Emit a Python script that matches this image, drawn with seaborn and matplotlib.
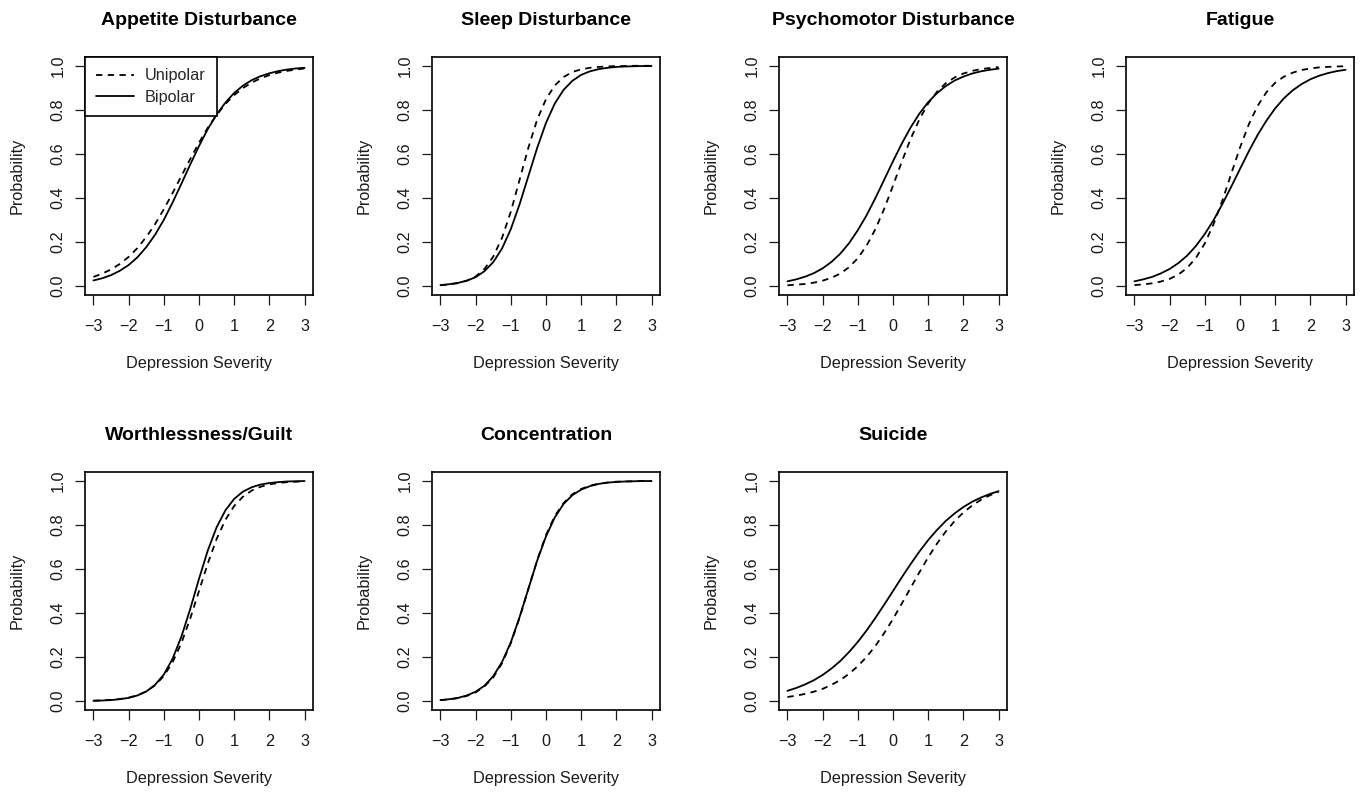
import numpy as np
import pandas as pd
import matplotlib
matplotlib.use("Agg")
import matplotlib.pyplot as plt
import seaborn as sns

severity = [-3.0, -2.75, -2.5, -2.25, -2.0, -1.75, -1.5, -1.25, -1.0, -0.75, -0.5, -0.25,
            0.0, 0.25, 0.5, 0.75, 1.0, 1.25, 1.5, 1.75, 2.0, 2.25, 2.5, 2.75, 3.0]

titles = ["Appetite Disturbance", "Sleep Disturbance", "Psychomotor Disturbance",
          "Fatigue", "Worthlessness/Guilt", "Concentration", "Suicide"]

appetite_uni = [0.042, 0.057, 0.076, 0.101, 0.133, 0.173, 0.223, 0.281, 0.349, 0.423, 0.500, 0.577,
                0.651, 0.719, 0.777, 0.827, 0.867, 0.899, 0.924, 0.943, 0.958, 0.969, 0.977, 0.983, 0.988]
appetite_bi = [0.026, 0.036, 0.050, 0.070, 0.096, 0.131, 0.177, 0.233, 0.301, 0.380, 0.465, 0.552,
               0.636, 0.713, 0.779, 0.833, 0.877, 0.910, 0.935, 0.953, 0.966, 0.976, 0.983, 0.988, 0.991]

sleep_uni = [0.004, 0.008, 0.014, 0.025, 0.044, 0.078, 0.134, 0.219, 0.338, 0.483, 0.629, 0.756,
             0.849, 0.911, 0.949, 0.972, 0.984, 0.991, 0.995, 0.997, 0.999, 0.999, 1.000, 1.000, 1.000]
sleep_bi = [0.005, 0.009, 0.015, 0.025, 0.041, 0.068, 0.109, 0.171, 0.259, 0.372, 0.500, 0.628,
            0.741, 0.829, 0.891, 0.932, 0.959, 0.975, 0.985, 0.991, 0.995, 0.997, 0.998, 0.999, 0.999]

psychomotor_uni = [0.004, 0.007, 0.010, 0.016, 0.025, 0.038, 0.057, 0.086, 0.127, 0.184, 0.259, 0.351,
                   0.456, 0.565, 0.668, 0.757, 0.829, 0.882, 0.921, 0.947, 0.965, 0.977, 0.985, 0.990, 0.994]
psychomotor_bi = [0.022, 0.031, 0.043, 0.059, 0.081, 0.110, 0.147, 0.195, 0.254, 0.322, 0.400, 0.483,
                  0.567, 0.647, 0.720, 0.783, 0.835, 0.876, 0.908, 0.933, 0.951, 0.965, 0.975, 0.982, 0.987]

fatigue_uni = [0.005, 0.008, 0.013, 0.021, 0.033, 0.053, 0.083, 0.129, 0.194, 0.282, 0.389, 0.510,
               0.629, 0.734, 0.818, 0.880, 0.923, 0.951, 0.969, 0.981, 0.988, 0.993, 0.995, 0.997, 0.998]
fatigue_bi = [0.022, 0.031, 0.042, 0.058, 0.078, 0.105, 0.139, 0.183, 0.237, 0.300, 0.373, 0.451,
              0.532, 0.612, 0.686, 0.751, 0.807, 0.853, 0.889, 0.917, 0.939, 0.955, 0.967, 0.976, 0.982]

guilt_uni = [0.002, 0.004, 0.006, 0.010, 0.016, 0.027, 0.044, 0.072, 0.114, 0.177, 0.264, 0.375,
             0.500, 0.625, 0.736, 0.823, 0.886, 0.928, 0.956, 0.973, 0.984, 0.990, 0.994, 0.996, 0.998]
guilt_bi = [0.002, 0.003, 0.005, 0.009, 0.015, 0.026, 0.044, 0.074, 0.121, 0.193, 0.293, 0.418,
            0.555, 0.684, 0.789, 0.866, 0.918, 0.951, 0.971, 0.983, 0.990, 0.994, 0.997, 0.998, 0.999]

concentration_uni = [0.005, 0.008, 0.014, 0.024, 0.040, 0.067, 0.108, 0.172, 0.263, 0.379, 0.510, 0.641,
                     0.754, 0.840, 0.899, 0.939, 0.963, 0.978, 0.987, 0.992, 0.996, 0.997, 0.998, 0.999, 0.999]
concentration_bi = [0.005, 0.009, 0.015, 0.026, 0.043, 0.070, 0.113, 0.178, 0.267, 0.382, 0.510, 0.638,
                    0.748, 0.834, 0.895, 0.935, 0.960, 0.976, 0.986, 0.992, 0.995, 0.997, 0.998, 0.999, 0.999]

suicide_uni = [0.019, 0.025, 0.033, 0.043, 0.056, 0.074, 0.096, 0.124, 0.159, 0.201, 0.251, 0.309,
               0.373, 0.443, 0.514, 0.585, 0.653, 0.715, 0.770, 0.817, 0.856, 0.888, 0.914, 0.934, 0.949]
suicide_bi = [0.047, 0.060, 0.076, 0.095, 0.119, 0.148, 0.182, 0.223, 0.269, 0.321, 0.378, 0.438,
              0.500, 0.562, 0.622, 0.679, 0.731, 0.777, 0.818, 0.852, 0.881, 0.905, 0.924, 0.940, 0.953]

unipolar = [appetite_uni, sleep_uni, psychomotor_uni, fatigue_uni, guilt_uni, concentration_uni, suicide_uni]
bipolar = [appetite_bi, sleep_bi, psychomotor_bi, fatigue_bi, guilt_bi, concentration_bi, suicide_bi]

xticks = [-3, -2, -1, 0, 1, 2, 3]
yticks = [0.0, 0.2, 0.4, 0.6, 0.8, 1.0]

sns.set_style("ticks")
plt.rcParams['font.family'] = ['Liberation Sans', 'DejaVu Sans']
plt.rcParams['axes.linewidth'] = 1.2

fig = plt.figure(figsize=(13.65, 7.96), dpi=100)
W, H = 1365, 796
lefts = [85, 432, 779, 1126]
tops = [57, 472]
aw, ah = 228, 238
txt = "#1a1a1a"

for i, title in enumerate(titles):
    r, c = divmod(i, 4)
    ax = fig.add_axes([lefts[c] / W, (H - tops[r] - ah) / H, aw / W, ah / H])
    df = pd.DataFrame({"x": severity, "uni": unipolar[i], "bi": bipolar[i]})
    sns.lineplot(data=df, x="x", y="uni", ax=ax, color="black", lw=1.3,
                 linestyle=(0, (3.5, 3)), label="Unipolar")
    sns.lineplot(data=df, x="x", y="bi", ax=ax, color="black", lw=1.3,
                 linestyle="-", label="Bipolar")
    ax.set_xlim(-3.24, 3.24)
    ax.set_ylim(-0.04, 1.04)
    ax.set_xticks(xticks)
    ax.set_xticklabels([str(t).replace("-", "\u2212") for t in xticks])
    ax.set_yticks(yticks)
    ax.set_yticklabels([f"{t:.1f}" for t in yticks], rotation=90, va="center")
    for s in ax.spines.values():
        s.set_visible(True)
        s.set_color("black")
        s.set_linewidth(1.2)
    ax.tick_params(axis="both", direction="out", length=7, width=0.9,
                   labelsize=11.7, colors=txt, pad=7)
    ax.tick_params(axis="x", pad=10)
    ax.set_xlabel("Depression Severity", fontsize=11.7, labelpad=16, color=txt)
    ax.set_ylabel("Probability", fontsize=11.7, labelpad=19, color=txt)
    ax.set_title(title, fontsize=14, fontweight="bold", pad=23, color="black")
    if i == 0:
        leg = ax.legend(loc="upper left", borderaxespad=0, frameon=True,
                        fancybox=False, fontsize=11.7, handlelength=2.3,
                        borderpad=0.7, labelspacing=0.4, handletextpad=0.7)
        leg.get_frame().set_edgecolor("black")
        leg.get_frame().set_linewidth(1.2)
        leg.get_frame().set_alpha(1)
    else:
        lg = ax.get_legend()
        if lg is not None:
            lg.remove()

fig.savefig("out.png", dpi=100)
